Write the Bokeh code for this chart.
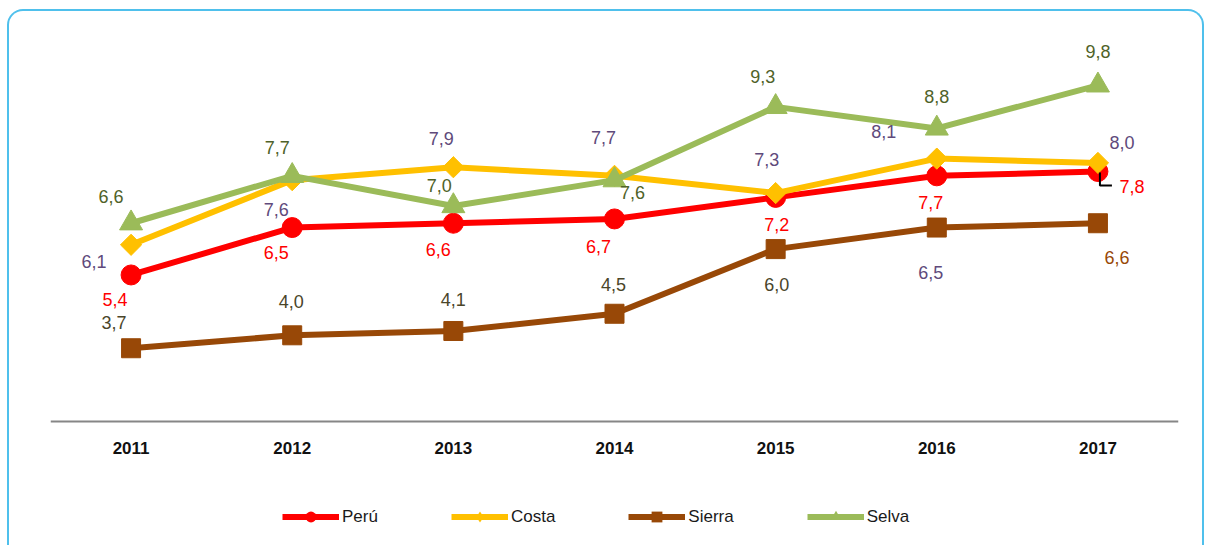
import math
from bokeh.plotting import figure
from bokeh.models import (ColumnDataSource, Range1d, Legend, LegendItem, Span,
                          InlineStyleSheet)
from bokeh.core.properties import value
from bokeh.embed import file_html
from bokeh.resources import INLINE

years = [2011, 2012, 2013, 2014, 2015, 2016, 2017]
year_labels = ["2011", "2012", "2013", "2014", "2015", "2016", "2017"]
peru = [5.4, 6.5, 6.6, 6.7, 7.2, 7.7, 7.8]
costa = [6.1, 7.6, 7.9, 7.7, 7.3, 8.1, 8.0]
sierra = [3.7, 4.0, 4.1, 4.5, 6.0, 6.5, 6.6]
selva = [6.6, 7.7, 7.0, 7.6, 9.3, 8.8, 9.8]
series_names = ["Perú", "Costa", "Sierra", "Selva"]

# styles
AXIS_BASE = 2.0
Y_START, Y_END = -0.877, 11.281
X_START, X_END = 2010.5, 2017.5
FRAME_W, FRAME_H = 1128, 524
LINE_COLORS = ["#FF0000", "#FFC000", "#984807", "#9BBB59"]
MARKERS = ["circle", "square", "square", "triangle"]
MARKER_SIZES = [20, 15, 19, 23]
MARKER_ANGLES = [0, math.pi / 4, 0, 0]
LEGEND_MARKERS = ["circle", "diamond", "square", "triangle"]
LABEL_COLORS = [
    ["#FF0000"] * 7,
    ["#604A7B"] * 7,
    ["#4A452A"] * 5 + ["#604A7B", "#984807"],
    ["#4F6228"] * 7,
]
# label offsets in screen pixels (dx right, dy down)
OFFSETS = [
    [(-16, 25), (-16, 25), (-15, 26), (-16, 28), (1, 27), (-6, 27), (34, 15)],
    [(-37, 17), (-16, 29), (-12, -29), (-11, -38), (-9, -34), (-53, -27), (24, -20)],
    [(-17, -26), (-1, -34), (0, -31), (-1, -29), (1, 35), (-6, 45), (19, 34)],
    [(-20, -27), (-15, -28), (-14, -21), (18, 12), (-13, -30), (0, -32), (0, -34)],
]

FONT = "Liberation Sans"

p = figure(width=1206, height=545, output_backend="svg", toolbar_location=None,
           x_range=Range1d(X_START, X_END), y_range=Range1d(Y_START, Y_END),
           x_axis_location=None, y_axis_location=None,
           min_border_left=50, min_border_right=28,
           min_border_top=21, min_border_bottom=0)
p.grid.visible = False
p.outline_line_color = None
p.background_fill_color = "white"
p.border_fill_color = "white"

# category axis: base line and year labels
p.add_layout(Span(location=AXIS_BASE, dimension="width", line_color="#868686",
                  line_width=2))
tick_src = ColumnDataSource(dict(x=years, y=[AXIS_BASE] * len(years), t=year_labels))
p.text("x", "y", text="t", source=tick_src, y_offset=26, text_align="center",
       text_baseline="middle", text_font=value(FONT), text_font_style="bold",
       text_font_size="17px", text_color="#111111")

all_series = [peru, costa, sierra, selva]
legend_items = []
for i, vals in enumerate(all_series):
    src = ColumnDataSource(dict(x=years, y=vals))
    lr = p.line("x", "y", source=src, line_color=LINE_COLORS[i], line_width=6)
    p.scatter("x", "y", source=src, marker=MARKERS[i], size=MARKER_SIZES[i],
              angle=MARKER_ANGLES[i],
              fill_color=LINE_COLORS[i], line_color=LINE_COLORS[i])
    # legend-only marker: zero size in the plot, legend draws its own size
    lm = p.scatter("x", "y", source=src, marker=LEGEND_MARKERS[i], size=0,
                   fill_color=LINE_COLORS[i], line_color=None)
    legend_items.append(LegendItem(label=series_names[i], renderers=[lr, lm]))

for i, vals in enumerate(all_series):
    lsrc = ColumnDataSource(dict(
        x=years, y=vals,
        t=[f"{v:.1f}".replace(".", ",") for v in vals],
        c=LABEL_COLORS[i],
        dx=[o[0] for o in OFFSETS[i]],
        dy=[o[1] for o in OFFSETS[i]],
    ))
    p.text("x", "y", text="t", source=lsrc, text_color="c", x_offset="dx", y_offset="dy",
           text_align="center", text_baseline="middle", text_font=value(FONT),
           text_font_size="18px")

# leader line for the last Perú label (offsets in pixels converted to data units)
px_x = (X_END - X_START) / FRAME_W
px_y = (Y_END - Y_START) / FRAME_H
lx, ly = years[-1], peru[-1]
p.line(x=[lx + 2 * px_x, lx + 2 * px_x, lx + 14 * px_x],
       y=[ly - 1 * px_y, ly - 14 * px_y, ly - 14 * px_y],
       line_color="black", line_width=2)

legend = Legend(items=legend_items, orientation="horizontal", location=(232, 15),
                glyph_width=57, glyph_height=27, label_standoff=3, spacing=73,
                padding=0, margin=0, border_line_color=None, background_fill_alpha=0,
                label_text_font=FONT, label_text_font_size="17px",
                label_text_color="#1a1a1a")
p.add_layout(legend)

p.stylesheets = [InlineStyleSheet(css="""
:host { position: relative; }
:host::after {
  content: "";
  position: absolute;
  left: 7px; top: 9px;
  width: 1197px; height: 536px;
  box-sizing: border-box;
  border: 2px solid #4FC0EC;
  border-bottom: none;
  border-radius: 16px 16px 0 0;
  pointer-events: none;
}
""")]

open("out.html", "w").write(file_html(p, INLINE))
